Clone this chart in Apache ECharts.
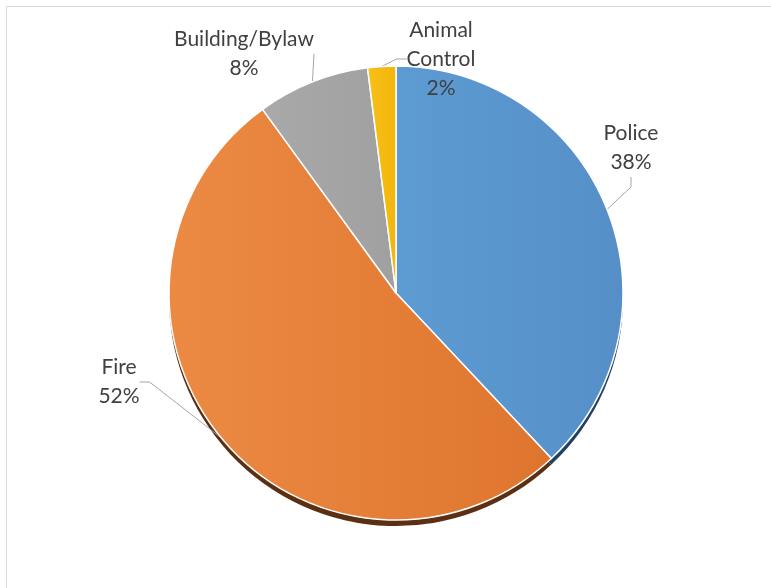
<!DOCTYPE html>
<html>
<head>
<meta charset="utf-8">
<title>Calls by department</title>
<script src="https://cdn.jsdelivr.net/npm/echarts@6/dist/echarts.min.js"></script>
<style>
  html, body { margin: 0; padding: 0; background: #fff; }
  #chart { width: 771px; height: 588px; }
</style>
</head>
<body>
<div id="chart"></div>
<script>
// data
const departments = ["Police", "Fire", "Building/Bylaw", "Animal Control"];
const shares = [38, 52, 8, 2];

// slice shading: left edge -> right edge, plus the dark rim underneath
const colorsLight = ["#5D9BD3", "#EC8A44", "#A9A9A9", "#F8BF1A"];
const colorsDark = ["#568FC8", "#DE752E", "#A0A0A0", "#F2B70C"];
const rimColors = ["#22415e", "#5c2f12", "#4a4a4a", "#735600"];

// where each label sits (centre of the text block)
const labelPos = [[631, 148], [119, 382], [244, 54], [441, 59]];

const center = [396, 293];
const radius = 227;

let myChart = echarts.init(document.getElementById("chart"));

const pieData = departments.map((name, i) => ({
  name: name,
  value: shares[i],
  itemStyle: {
    color: new echarts.graphic.LinearGradient(0, 0, 1, 0, [
      { offset: 0, color: colorsLight[i] },
      { offset: 1, color: colorsDark[i] }
    ])
  }
}));

const rimData = departments.map((name, i) => ({
  name: name,
  value: shares[i],
  itemStyle: { color: rimColors[i] }
}));

myChart.setOption({
  backgroundColor: "#fff",
  animation: false,
  graphic: [{
    type: "rect",
    shape: { x: 6.5, y: 6.5, width: 900, height: 700 },
    style: { fill: "none", stroke: "#d9d9d9", lineWidth: 1 },
    silent: true,
    z: -10
  }],
  series: [
    {
      // dark rim under the pie (3-D look)
      type: "pie",
      center: [center[0], center[1] + 6],
      radius: radius,
      startAngle: 90,
      silent: true,
      z: 1,
      label: { show: false },
      labelLine: { show: false },
      data: rimData
    },
    {
      type: "pie",
      center: center,
      radius: radius,
      startAngle: 90,
      z: 2,
      itemStyle: { borderColor: "#fff", borderWidth: 1.5 },
      label: {
        show: true,
        position: "outside",
        color: "#404040",
        fontFamily: "Lato",
        fontSize: 21,
        lineHeight: 29,
        align: "center",
        formatter: p => p.name.replace(" ", "\n") + "\n" + p.percent + "%"
      },
      labelLine: {
        show: true,
        length: 20,
        length2: 10,
        lineStyle: { color: "#a6a6a6", width: 1 }
      },
      labelLayout: params => {
        const p = labelPos[params.dataIndex];
        return { x: p[0], y: p[1], align: "center", verticalAlign: "middle" };
      },
      data: pieData
    }
  ]
});
</script>
</body>
</html>
